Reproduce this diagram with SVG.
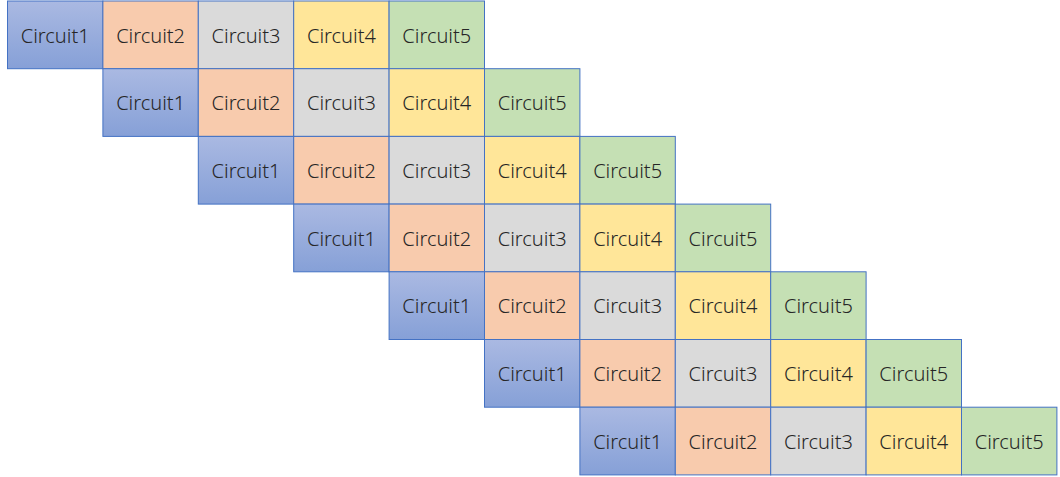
<svg xmlns="http://www.w3.org/2000/svg" width="1060" height="477" viewBox="0 0 1060 477">
<defs>
<linearGradient id="gb" x1="0" y1="0" x2="0" y2="1">
<stop offset="0" stop-color="#AAB9E2"/>
<stop offset="1" stop-color="#86A0D7"/>
</linearGradient>
<style>
.cell rect{stroke:#4472C4;stroke-width:1}
.c1{fill:url(#gb)}
.c2{fill:#F8CBAD}
.c3{fill:#DADADA}
.c4{fill:#FFE699}
.c5{fill:#C5E0B4}
text{font-family:"Noto Sans","Liberation Sans",sans-serif;font-size:20px;fill:#262626;text-anchor:middle;dominant-baseline:central;font-weight:300}
</style>
</defs>
<rect x="0" y="0" width="1060" height="477" fill="#ffffff"/>
<g id="row0" class="cell" transform="translate(7.5,1)">
<g id="r0c1"><rect class="c1" x="0" y="0" width="95.4" height="67.7"/><text x="47.7" y="34">Circuit1</text></g>
<g id="r0c2"><rect class="c2" x="95.4" y="0" width="95.4" height="67.7"/><text x="143.1" y="34">Circuit2</text></g>
<g id="r0c3"><rect class="c3" x="190.8" y="0" width="95.4" height="67.7"/><text x="238.5" y="34">Circuit3</text></g>
<g id="r0c4"><rect class="c4" x="286.2" y="0" width="95.4" height="67.7"/><text x="333.9" y="34">Circuit4</text></g>
<g id="r0c5"><rect class="c5" x="381.6" y="0" width="95.4" height="67.7"/><text x="429.3" y="34">Circuit5</text></g>
</g>
<g id="row1" class="cell" transform="translate(102.9,68.7)">
<g id="r1c1"><rect class="c1" x="0" y="0" width="95.4" height="67.7"/><text x="47.7" y="34">Circuit1</text></g>
<g id="r1c2"><rect class="c2" x="95.4" y="0" width="95.4" height="67.7"/><text x="143.1" y="34">Circuit2</text></g>
<g id="r1c3"><rect class="c3" x="190.8" y="0" width="95.4" height="67.7"/><text x="238.5" y="34">Circuit3</text></g>
<g id="r1c4"><rect class="c4" x="286.2" y="0" width="95.4" height="67.7"/><text x="333.9" y="34">Circuit4</text></g>
<g id="r1c5"><rect class="c5" x="381.6" y="0" width="95.4" height="67.7"/><text x="429.3" y="34">Circuit5</text></g>
</g>
<g id="row2" class="cell" transform="translate(198.3,136.4)">
<g id="r2c1"><rect class="c1" x="0" y="0" width="95.4" height="67.7"/><text x="47.7" y="34">Circuit1</text></g>
<g id="r2c2"><rect class="c2" x="95.4" y="0" width="95.4" height="67.7"/><text x="143.1" y="34">Circuit2</text></g>
<g id="r2c3"><rect class="c3" x="190.8" y="0" width="95.4" height="67.7"/><text x="238.5" y="34">Circuit3</text></g>
<g id="r2c4"><rect class="c4" x="286.2" y="0" width="95.4" height="67.7"/><text x="333.9" y="34">Circuit4</text></g>
<g id="r2c5"><rect class="c5" x="381.6" y="0" width="95.4" height="67.7"/><text x="429.3" y="34">Circuit5</text></g>
</g>
<g id="row3" class="cell" transform="translate(293.7,204.1)">
<g id="r3c1"><rect class="c1" x="0" y="0" width="95.4" height="67.7"/><text x="47.7" y="34">Circuit1</text></g>
<g id="r3c2"><rect class="c2" x="95.4" y="0" width="95.4" height="67.7"/><text x="143.1" y="34">Circuit2</text></g>
<g id="r3c3"><rect class="c3" x="190.8" y="0" width="95.4" height="67.7"/><text x="238.5" y="34">Circuit3</text></g>
<g id="r3c4"><rect class="c4" x="286.2" y="0" width="95.4" height="67.7"/><text x="333.9" y="34">Circuit4</text></g>
<g id="r3c5"><rect class="c5" x="381.6" y="0" width="95.4" height="67.7"/><text x="429.3" y="34">Circuit5</text></g>
</g>
<g id="row4" class="cell" transform="translate(389.1,271.8)">
<g id="r4c1"><rect class="c1" x="0" y="0" width="95.4" height="67.7"/><text x="47.7" y="34">Circuit1</text></g>
<g id="r4c2"><rect class="c2" x="95.4" y="0" width="95.4" height="67.7"/><text x="143.1" y="34">Circuit2</text></g>
<g id="r4c3"><rect class="c3" x="190.8" y="0" width="95.4" height="67.7"/><text x="238.5" y="34">Circuit3</text></g>
<g id="r4c4"><rect class="c4" x="286.2" y="0" width="95.4" height="67.7"/><text x="333.9" y="34">Circuit4</text></g>
<g id="r4c5"><rect class="c5" x="381.6" y="0" width="95.4" height="67.7"/><text x="429.3" y="34">Circuit5</text></g>
</g>
<g id="row5" class="cell" transform="translate(484.5,339.5)">
<g id="r5c1"><rect class="c1" x="0" y="0" width="95.4" height="67.7"/><text x="47.7" y="34">Circuit1</text></g>
<g id="r5c2"><rect class="c2" x="95.4" y="0" width="95.4" height="67.7"/><text x="143.1" y="34">Circuit2</text></g>
<g id="r5c3"><rect class="c3" x="190.8" y="0" width="95.4" height="67.7"/><text x="238.5" y="34">Circuit3</text></g>
<g id="r5c4"><rect class="c4" x="286.2" y="0" width="95.4" height="67.7"/><text x="333.9" y="34">Circuit4</text></g>
<g id="r5c5"><rect class="c5" x="381.6" y="0" width="95.4" height="67.7"/><text x="429.3" y="34">Circuit5</text></g>
</g>
<g id="row6" class="cell" transform="translate(579.9,407.2)">
<g id="r6c1"><rect class="c1" x="0" y="0" width="95.4" height="67.7"/><text x="47.7" y="34">Circuit1</text></g>
<g id="r6c2"><rect class="c2" x="95.4" y="0" width="95.4" height="67.7"/><text x="143.1" y="34">Circuit2</text></g>
<g id="r6c3"><rect class="c3" x="190.8" y="0" width="95.4" height="67.7"/><text x="238.5" y="34">Circuit3</text></g>
<g id="r6c4"><rect class="c4" x="286.2" y="0" width="95.4" height="67.7"/><text x="333.9" y="34">Circuit4</text></g>
<g id="r6c5"><rect class="c5" x="381.6" y="0" width="95.4" height="67.7"/><text x="429.3" y="34">Circuit5</text></g>
</g>
<g id="connectors"></g>
</svg>
